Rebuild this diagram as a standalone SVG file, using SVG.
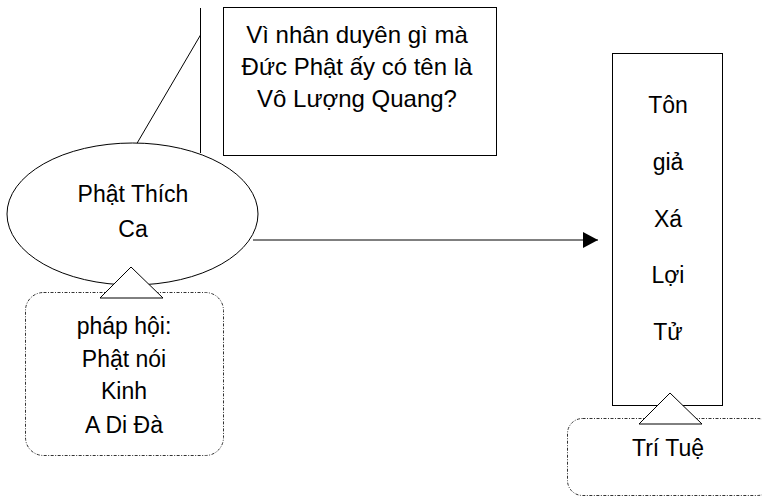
<svg xmlns="http://www.w3.org/2000/svg" width="762" height="497" viewBox="0 0 762 497">
<style>
text{font-family:"Liberation Sans",Arial,sans-serif;font-size:23px;fill:#000;text-anchor:middle}
.q text{font-size:24px}
.shape{fill:#fff;stroke:#000;stroke-width:1}
.dash{fill:#fff;stroke:#333;stroke-width:1;stroke-dasharray:3 1.5 1 1.5}
.conn{fill:none;stroke:#000;stroke-width:1}
</style>
<defs>
<marker id="arr" markerWidth="15" markerHeight="16" refX="15" refY="8" orient="auto" markerUnits="userSpaceOnUse">
<path d="M0,0 L15,8 L0,16 Z" fill="#000"/>
</marker>
</defs>
<rect width="762" height="497" fill="#fff"/>
<g id="connectors">
<line class="conn" x1="200.5" y1="8" x2="200.5" y2="153"/>
<line class="conn" x1="200.5" y1="35" x2="136" y2="145"/>
<line class="conn" x1="253" y1="240" x2="598" y2="240" marker-end="url(#arr)"/>
</g>
<g id="question" class="q">
<rect class="shape" x="223.5" y="7.5" width="273" height="148"/>
<text x="357" y="43">Vì nhân duyên gì mà</text>
<text x="357" y="75">Đức Phật ấy có tên là</text>
<text x="357" y="107">Vô Lượng Quang?</text>
</g>
<g id="phap-hoi">
<rect class="dash" x="25.5" y="292.5" width="198" height="163" rx="18"/>
<text x="124" y="334">pháp hội:</text>
<text x="124" y="367">Phật nói</text>
<text x="124" y="399">Kinh</text>
<text x="124" y="433">A Di Đà</text>
</g>
<g id="phat-thich-ca">
<ellipse class="shape" cx="132.5" cy="214" rx="125.5" ry="71"/>
<text x="133" y="202">Phật Thích</text>
<text x="133" y="237">Ca</text>
<polygon class="shape" points="131,267 163,298 100,298"/>
</g>
<g id="tri-tue">
<rect class="dash" x="567.5" y="418.5" width="205" height="77" rx="15"/>
<text x="668" y="456">Trí Tuệ</text>
</g>
<g id="ton-gia">
<rect class="shape" x="612.5" y="53.5" width="110" height="352"/>
<text x="668" y="113">Tôn</text>
<text x="668" y="170">giả</text>
<text x="668" y="227">Xá</text>
<text x="668" y="283">Lợi</text>
<text x="668" y="340">Tử</text>
<polygon class="shape" points="670,393 702,424 639,424"/>
</g>
</svg>
